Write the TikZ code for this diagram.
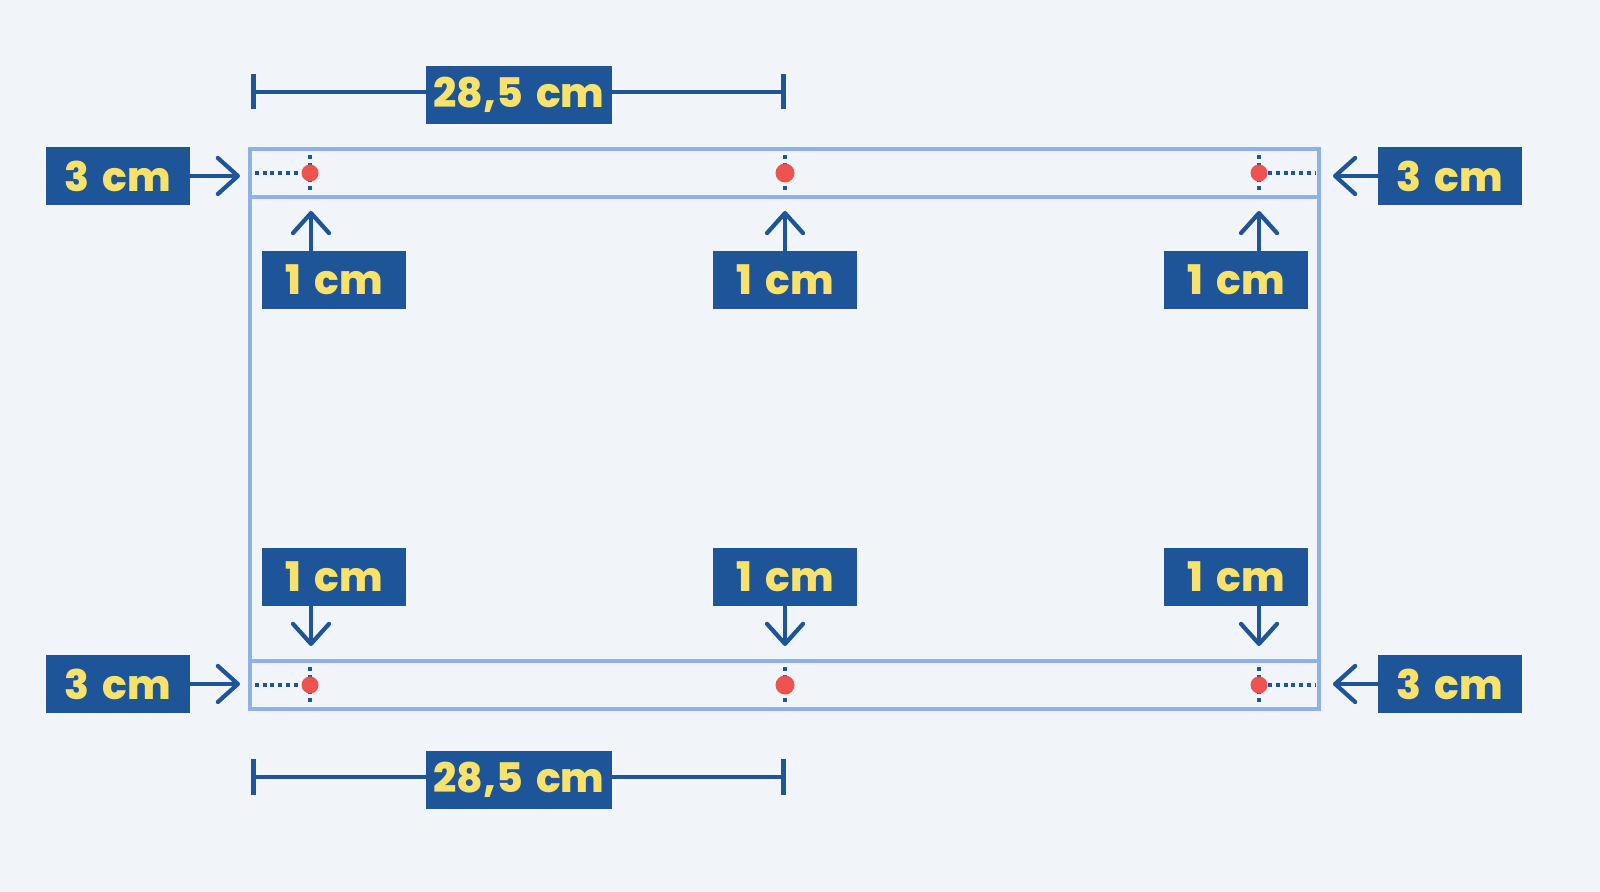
\documentclass[tikz,border=0pt]{standalone}
\usepackage{fontspec}
\setmainfont{Poppins}[BoldFont={Poppins ExtraBold}, WordSpace=1.7]
\usetikzlibrary{arrows.meta}

\definecolor{bgcol}{HTML}{F1F5FA}
\definecolor{boxblue}{HTML}{1D5598}
\definecolor{framecol}{HTML}{8FB1E3}
\definecolor{dotred}{HTML}{EF5350}
\definecolor{txtyel}{HTML}{F9E26B}

\tikzset{
  lbl/.style={fill=boxblue, text=txtyel, inner sep=0pt, minimum width=1.43cm,
    minimum height=0.58cm, font=\fontsize{11.6}{13}\selectfont\bfseries},
  widelbl/.style={lbl, minimum width=1.86cm},
  arr/.style={draw=boxblue, line width=1.2pt, line cap=round,
    -{Straight Barb[length=2mm,width=3.6mm,round]}},
  dim/.style={draw=boxblue, line width=1.4pt,
    {Bar[width=3.5mm,line width=1.4pt]}-{Bar[width=3.5mm,line width=1.4pt]}},
  frame/.style={draw=framecol, line width=1.1pt},
  dotline/.style={draw=boxblue, line width=1.1pt, dash pattern=on 1.1pt off 1.1pt},
  reddot/.style={circle, fill=dotred, inner sep=0pt, minimum size=0.17cm}
}

\begin{document}
\begin{tikzpicture}[x=0.01cm, y=-0.01cm]

% background
\fill[bgcol] (0,0) rectangle (1600,892);

% page and strips
\draw[frame] (250,149) rectangle (1319,709);
\draw[frame] (250,197) -- (1319,197);
\draw[frame] (250,661) -- (1319,661);

% cross marks, top
\draw[dotline] (310,155) -- (310,193);
\draw[dotline] (785,155) -- (785,193);
\draw[dotline] (1259,155) -- (1259,193);
\node[reddot] (dtl) at (310,173) {};
\node[reddot, minimum size=0.19cm] (dtm) at (785,173) {};
\node[reddot] (dtr) at (1259,173) {};
\coordinate (etl) at (255,173);
\coordinate (etr) at (1315,173);
\draw[dotline] (etl) -- (dtl.west);
\draw[dotline] (dtr.east) -- (etr);

% cross marks, bottom
\draw[dotline] (310,667) -- (310,705);
\draw[dotline] (785,667) -- (785,705);
\draw[dotline] (1259,667) -- (1259,705);
\node[reddot] (dbl) at (310,685) {};
\node[reddot, minimum size=0.19cm] (dbm) at (785,685) {};
\node[reddot] (dbr) at (1259,685) {};
\coordinate (ebl) at (255,685);
\coordinate (ebr) at (1315,685);
\draw[dotline] (ebl) -- (dbl.west);
\draw[dotline] (dbr.east) -- (ebr);

% width, top
\coordinate (wta) at (251,92);
\coordinate (wtb) at (786,92);
\draw[dim] (wta) -- (wtb);
\node[widelbl] (wtop) at (519,95) {28,5 cm};

% width, bottom
\coordinate (wba) at (251,777);
\coordinate (wbb) at (786,777);
\draw[dim] (wba) -- (wbb);
\node[widelbl] (wbot) at (519,780) {28,5 cm};

% side margins
\node[lbl] (stl) at (118,176) {3 cm};
\node[lbl] (str) at (1450,176) {3 cm};
\node[lbl] (sbl) at (118,684) {3 cm};
\node[lbl] (sbr) at (1450,684) {3 cm};
\coordinate (atl) at (240,176);
\coordinate (atr) at (1333,176);
\coordinate (abl) at (240,684);
\coordinate (abr) at (1333,684);
\draw[arr] (stl.east) -- (atl);
\draw[arr] (str.west) -- (atr);
\draw[arr] (sbl.east) -- (abl);
\draw[arr] (sbr.west) -- (abr);

% top margins
\node[lbl] (ttl) at (334,280) {1 cm};
\node[lbl] (ttm) at (785,280) {1 cm};
\node[lbl] (ttr) at (1236,280) {1 cm};
\coordinate (utl) at (311,211);
\coordinate (utm) at (785,211);
\coordinate (utr) at (1259,211);
\draw[arr] (utl |- ttl.north) -- (utl);
\draw[arr] (utm |- ttm.north) -- (utm);
\draw[arr] (utr |- ttr.north) -- (utr);

% bottom margins
\node[lbl] (tbl) at (334,577) {1 cm};
\node[lbl] (tbm) at (785,577) {1 cm};
\node[lbl] (tbr) at (1236,577) {1 cm};
\coordinate (ubl) at (311,646);
\coordinate (ubm) at (785,646);
\coordinate (ubr) at (1259,646);
\draw[arr] (ubl |- tbl.south) -- (ubl);
\draw[arr] (ubm |- tbm.south) -- (ubm);
\draw[arr] (ubr |- tbr.south) -- (ubr);

\end{tikzpicture}
\end{document}
